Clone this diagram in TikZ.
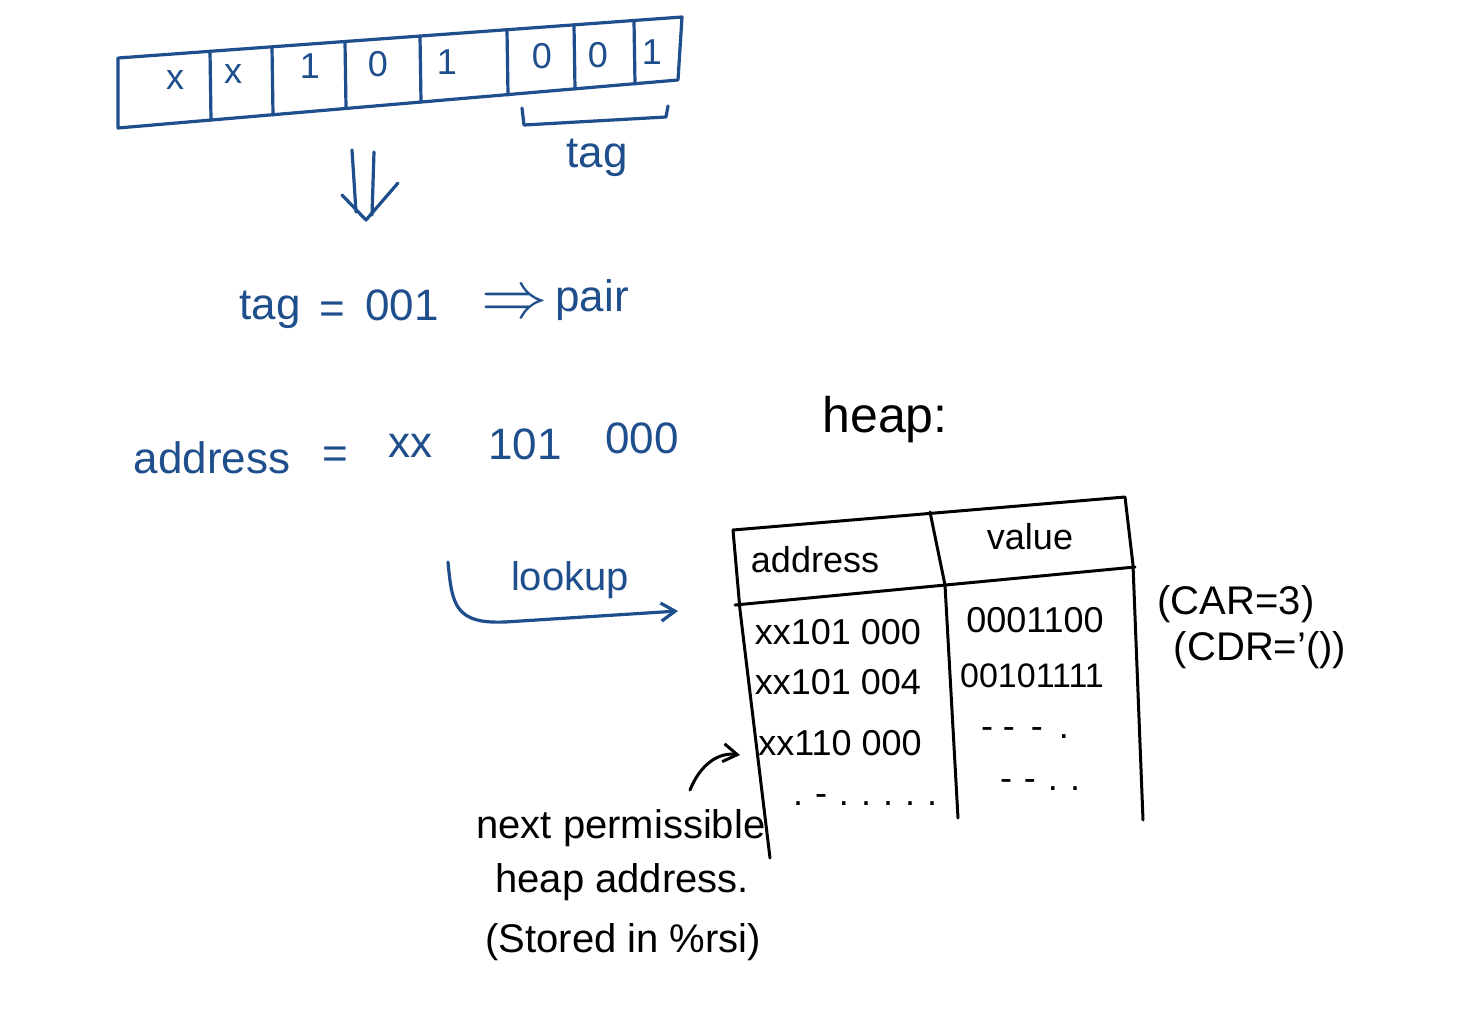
\documentclass[tikz,border=0pt]{standalone}
\usepackage{fontspec}
\setmainfont{Liberation Sans}
\usetikzlibrary{arrows.meta}
\definecolor{ink}{HTML}{1F4E8C}
\begin{document}
\begin{tikzpicture}[x=0.5pt,y=-0.5pt,
  bluel/.style={draw=ink, line width=1.6pt, line cap=round, line join=round},
  blackl/.style={draw=black, line width=1.5pt, line cap=round, line join=round},
  regtxt/.style={text=ink, font=\fontsize{18}{20}\selectfont, inner sep=0pt},
  btxt/.style={text=ink, font=\fontsize{22}{24}\selectfont, inner sep=0pt},
  ktxt/.style={text=black, font=\fontsize{18}{20}\selectfont, inner sep=0pt},
  ntxt/.style={text=black, font=\fontsize{20}{22}\selectfont, inner sep=0pt, anchor=west},
  tip/.style={-{Straight Barb[length=7pt,width=9pt]}},
]
\useasboundingbox[fill=white] (0,0) rectangle (1472,1012);

% ---- register ----
\coordinate (rTL) at (118,58);
\coordinate (rTR) at (682,17);
\coordinate (rBR) at (678,80);
\coordinate (rBL) at (118,128);
\draw[bluel] (rTL) -- (rTR) -- (rBR) -- (rBL) -- cycle;
\foreach \x/\a/\b in {210/51/120, 272/47/115, 345/42/108, 420/36/102, 507/30/95, 574/25/89, 634/21/84}
  \draw[bluel] (\x,\a) -- (\x+1,\b);
\node[regtxt] (c1) at (175,80) {x};
\node[regtxt] (c2) at (233,74) {x};
\node[regtxt] (c3) at (310,66) {1};
\node[regtxt] (c4) at (378,64) {0};
\node[regtxt] (c5) at (447,62) {1};
\node[regtxt] (c6) at (542,56) {0};
\node[regtxt] (c7) at (598,55) {0};
\node[regtxt] (c8) at (652,52) {1};

% tag bracket
\coordinate (bA) at (522,108);
\coordinate (bB) at (524,125);
\coordinate (bC) at (666,117);
\coordinate (bD) at (668,106);
\draw[bluel] (bA) -- (bB) -- (bC) -- (bD);
\node[btxt] (tagl) at (597,158) {tag};

% double arrow down
\draw[bluel] (352,150) -- (356,212);
\draw[bluel] (374,152) -- (372,215);
\draw[bluel] (342,195) -- (366,220) -- (398,183);

% tag = 001 => pair
\node[btxt] (t1) at (270,310) {tag};
\node[btxt] (t2) at (332,313) {=};
\node[btxt] (t3) at (402,305) {001};
\node[btxt, scale=1.6] (t4) at (515,305) {$\Rightarrow$};
\node[btxt] (t5) at (592,300) {pair};

% address = xx 101 000
\node[btxt] (a1) at (212,458) {address};
\node[btxt] (a2) at (335,458) {=};
\node[btxt] (a3) at (410,446) {xx};
\node[btxt] (a4) at (525,444) {101};
\node[btxt] (a5) at (642,438) {000};

% heap:
\node[text=black, font=\fontsize{25}{28}\selectfont, inner sep=0pt] (heap) at (885,420) {heap:};

% lookup arrow
\node[btxt, font=\fontsize{20}{22}\selectfont] (look) at (570,580) {lookup};
\coordinate (lkS) at (448,562);
\coordinate (lkE) at (678,611);
\draw[bluel, tip] (lkS) .. controls (452,605) and (455,624) .. (505,622) -- (lkE);

% ---- table ----
\coordinate (tTL) at (733,530);
\coordinate (tTR) at (1125,497);
\coordinate (tBL) at (770,858);
\coordinate (tBR) at (1143,820);
\draw[blackl] (tBL) -- (740,610) -- (tTL) -- (tTR) -- (1133,565) -- (tBR);
\draw[blackl] (735,605) -- (1135,567);
\draw[blackl] (930,512) -- (945,585) -- (958,818);

\node[ktxt] (h1) at (815,560) {address};
\node[ktxt] (h2) at (1030,537) {value};
\node[ktxt] (r1a) at (838,632) {xx101 000};
\node[ktxt] (r1b) at (1035,620) {0001100};
\node[ktxt] (r2a) at (838,682) {xx101 004};
\node[ktxt, font=\fontsize{17}{20}\selectfont] (r2b) at (1032,676) {00101111};
\node[ktxt] (r3a) at (840,743) {xx110 000};
\node[ktxt] (r3b) at (1025,733) {- -\, - \,.};
\node[ktxt] (r4a) at (865,800) {.\,\,-\,\,.\,\,.\,\,.\,\,.\,\,.};
\node[ktxt] (r4b) at (1040,785) {-\,\,-\,\,.\,\,.};

\node[ktxt, font=\fontsize{20}{22}\selectfont] (car) at (1236,604) {(CAR=3)};
\node[ktxt, font=\fontsize{20}{22}\selectfont] (cdr) at (1260,650) {(CDR='())};

% annotation
\node[ntxt] (n1) at (476,828) {next permissible};
\node[ntxt] (n2) at (495,882) {heap address.};
\node[ntxt] (n3) at (485,942) {(Stored in \%rsi)};
\coordinate (nS) at (690,790);
\coordinate (nE) at (740,755);
\draw[blackl, tip] (nS) .. controls (700,765) and (718,752) .. (nE);

\end{tikzpicture}
\end{document}
